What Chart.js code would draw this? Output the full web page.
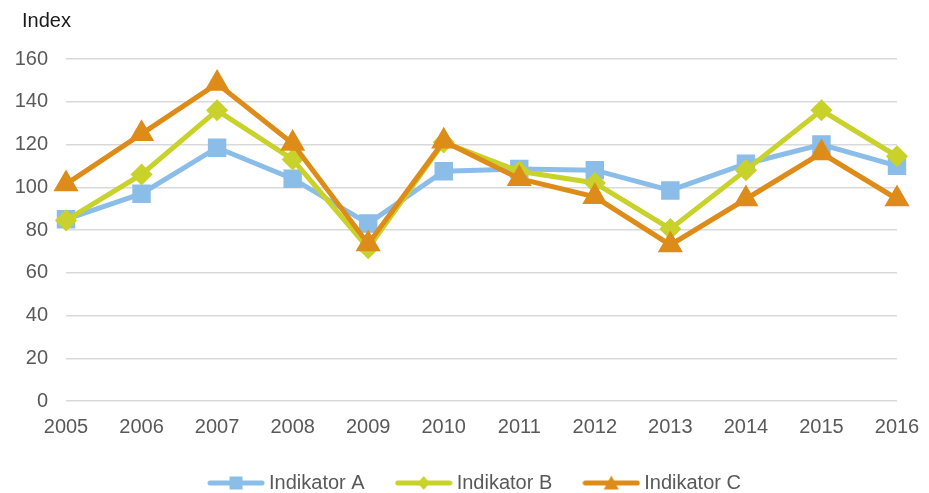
<!DOCTYPE html>
<html>
<head>
<meta charset="utf-8">
<script src="https://cdn.jsdelivr.net/npm/chart.js@4"></script>
<style>
  html, body { margin: 0; padding: 0; background: #fff; }
  #wrap { width: 929px; height: 493px; }
</style>
</head>
<body>
<div id="wrap"><canvas id="grafica"></canvas></div>
<script>
  const anios = ['2005', '2006', '2007', '2008', '2009', '2010', '2011', '2012', '2013', '2014', '2015', '2016'];
  const indikatorA = [85, 97, 118.5, 104, 83, 107.5, 108.5, 108, 98.5, 111, 120, 110];
  const indikatorB = [84.5, 106, 136, 113, 71.5, 121, 107.5, 102, 80.5, 108, 136, 114.5];
  const indikatorC = [101.5, 125, 148.5, 120.5, 73.5, 121.5, 104, 95.5, 73, 94.5, 116, 94.5];
  const ejeY = { min: 0, max: 160, paso: 20 };

  const azul = '#8bbde9';
  const verde = '#c8d22a';
  const naranja = '#de8c19';
  const fuente = 'Liberation Sans, Arial, sans-serif';

  // icono de leyenda: linea con el marcador en medio
  function iconoLeyenda(color, forma) {
    const c = document.createElement('canvas');
    c.width = 58;
    c.height = 18;
    const g = c.getContext('2d');
    g.strokeStyle = color;
    g.fillStyle = color;
    g.lineWidth = 5;
    g.lineCap = 'round';
    g.beginPath();
    g.moveTo(3, 9);
    g.lineTo(55, 9);
    g.stroke();
    g.beginPath();
    if (forma === 'rect') {
      g.rect(29 - 6.5, 9 - 6.5, 13, 13);
    } else if (forma === 'rectRot') {
      g.moveTo(29, 2); g.lineTo(35, 9); g.lineTo(29, 16); g.lineTo(23, 9);
    } else {
      g.moveTo(29, 1.5); g.lineTo(36.5, 15.5); g.lineTo(21.5, 15.5);
    }
    g.closePath();
    g.fill();
    return c;
  }

  const titulo = {
    id: 'tituloEje',
    afterDraw(chart) {
      const ctx = chart.ctx;
      ctx.save();
      ctx.font = '20px ' + fuente;
      ctx.fillStyle = '#1a1a1a';
      ctx.textBaseline = 'middle';
      ctx.textAlign = 'left';
      ctx.fillText('Index', 22, 21);
      ctx.restore();
    }
  };

  const ctx = document.getElementById('grafica').getContext('2d');
  new Chart(ctx, {
    type: 'line',
    data: {
      labels: anios,
      datasets: [{
        label: 'Indikator A',
        data: indikatorA,
        borderColor: azul,
        backgroundColor: azul,
        pointStyle: 'rect',
        pointRadius: 9.5,
        pointHoverRadius: 9.5,
        borderWidth: 5,
        order: 3,
        icono: iconoLeyenda(azul, 'rect')
      }, {
        label: 'Indikator B',
        data: indikatorB,
        borderColor: verde,
        backgroundColor: verde,
        pointStyle: 'rectRot',
        pointRadius: 7.5,
        pointHoverRadius: 7.5,
        borderWidth: 5,
        order: 2,
        icono: iconoLeyenda(verde, 'rectRot')
      }, {
        label: 'Indikator C',
        data: indikatorC,
        borderColor: naranja,
        backgroundColor: naranja,
        pointStyle: 'triangle',
        pointRadius: 9.5,
        pointHoverRadius: 9.5,
        borderWidth: 5,
        order: 1,
        icono: iconoLeyenda(naranja, 'triangle')
      }]
    },
    options: {
      responsive: true,
      maintainAspectRatio: false,
      animation: false,
      layout: { padding: { left: 10, right: -15, top: 59, bottom: -10 } },
      scales: {
        x: {
          offset: false,
          grid: { display: false, drawTicks: false },
          border: { display: false },
          ticks: { color: '#595959', font: { family: fuente, size: 20, lineHeight: 1.9 }, padding: 7, maxRotation: 0, autoSkip: false },
          afterFit: s => { s.height = 36; }
        },
        y: {
          min: ejeY.min,
          max: ejeY.max,
          grid: { color: '#d9d9d9', lineWidth: 1.5, drawTicks: false },
          border: { display: false },
          ticks: { stepSize: ejeY.paso, color: '#595959', font: { family: fuente, size: 20 }, padding: 18 },
          afterFit: s => { s.width = 56; }
        },
        y2: {
          position: 'right',
          grid: { display: false },
          border: { display: false },
          ticks: { display: false },
          afterFit: s => { s.width = 47; }
        }
      },
      plugins: {
        legend: {
          position: 'bottom',
          labels: {
            usePointStyle: true,
            pointStyleWidth: 46,
            padding: 36,
            color: '#595959',
            font: { family: fuente, size: 20 },
            generateLabels: chart => chart.data.datasets.map((d, i) => ({
              text: d.label,
              pointStyle: d.icono,
              fillStyle: d.borderColor,
              strokeStyle: d.borderColor,
              lineWidth: 0,
              fontColor: '#595959',
              datasetIndex: i,
              hidden: false
            }))
          }
        },
        tooltip: { enabled: false }
      }
    },
    plugins: [titulo]
  });
</script>
</body>
</html>
